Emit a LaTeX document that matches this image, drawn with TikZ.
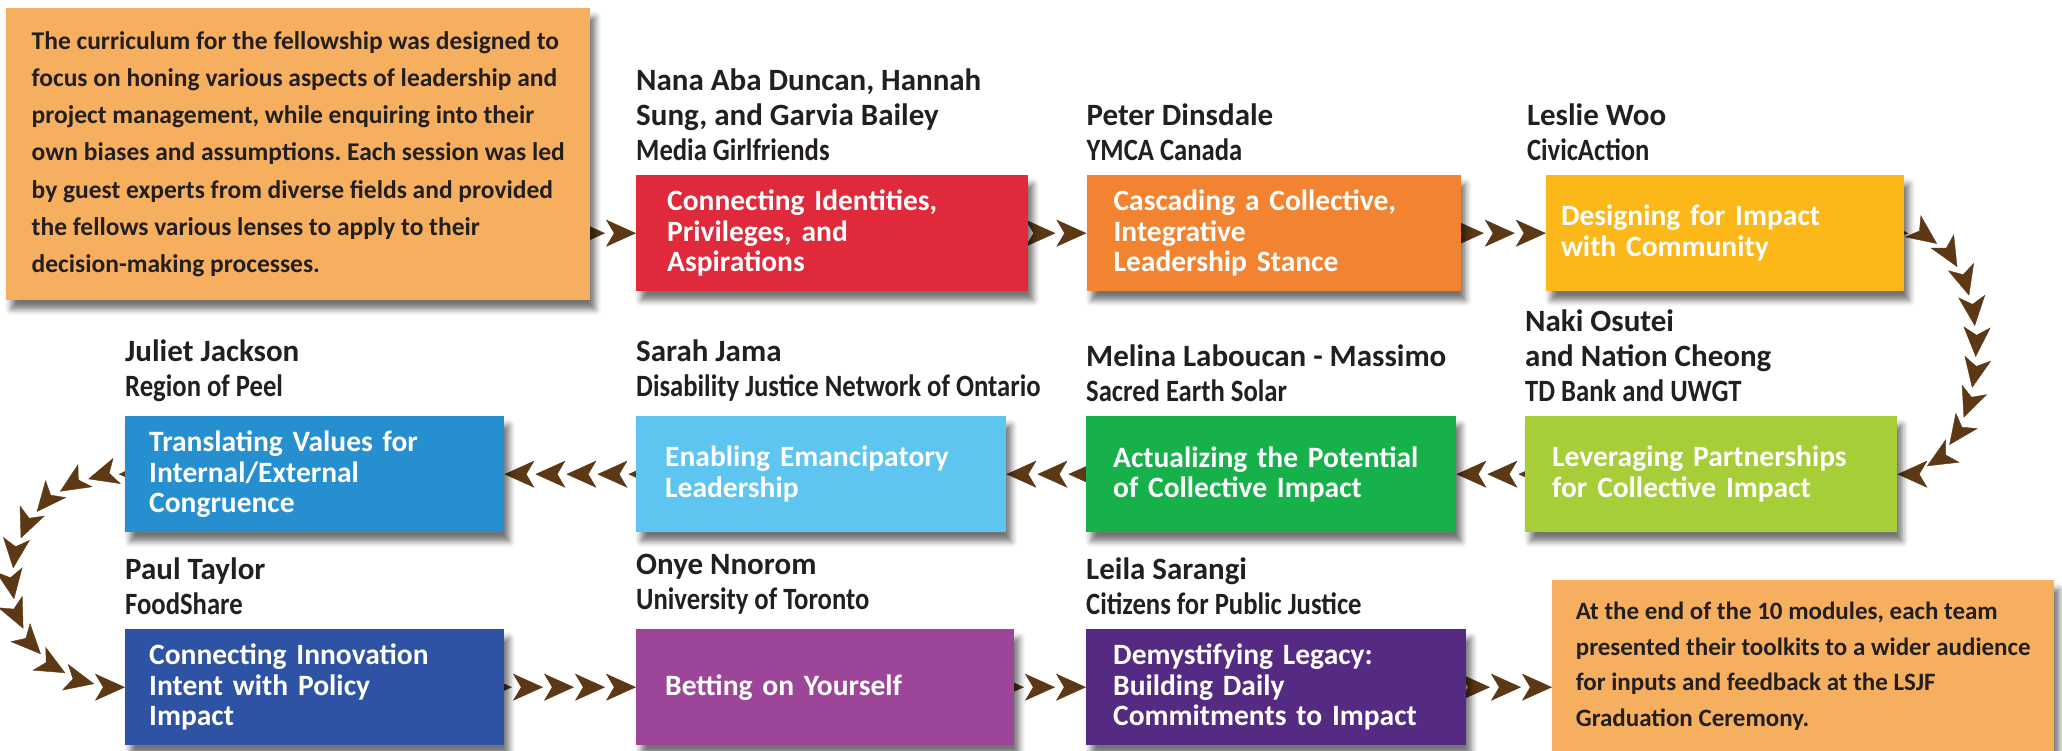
\documentclass[tikz,border=0pt]{standalone}
\usepackage{fontspec}
\setmainfont{Carlito}
\newfontfamily\orgfont[FakeStretch=0.86]{Carlito}
\usetikzlibrary{arrows.meta,backgrounds,decorations.markings,positioning,shadows.blur}
\frenchspacing

\definecolor{txtc}{HTML}{231F20}
\definecolor{notec}{HTML}{F5AF5F}
\definecolor{chevc}{HTML}{5C3814}
\definecolor{redc}{HTML}{E0293B}
\definecolor{orangec}{HTML}{F28431}
\definecolor{yellowc}{HTML}{FBB818}
\definecolor{lgreenc}{HTML}{A6CE39}
\definecolor{greenc}{HTML}{16B14B}
\definecolor{lbluec}{HTML}{5EC4F0}
\definecolor{bluec}{HTML}{268FD0}
\definecolor{dbluec}{HTML}{2E53A4}
\definecolor{purplec}{HTML}{9D4598}
\definecolor{dpurplec}{HTML}{552A82}

\tikzset{
  boxshadow/.style={blur shadow={shadow xshift=5pt,shadow yshift=-9pt,shadow blur radius=6pt,shadow opacity=55}},
  sbox/.style={fill=#1, boxshadow, minimum height=116pt, inner xsep=27pt, inner ysep=0pt,
    text width=320pt, align=left, text=white, anchor=north west,
    font=\bfseries\fontsize{29.5}{30.5}\selectfont},
  who/.style={inner sep=0pt, align=left, text=txtc,
    font=\bfseries\fontsize{31}{35}\selectfont},
  note/.style={fill=notec, boxshadow, inner sep=0pt, align=left, text=txtc,
    anchor=north west, font=\bfseries\fontsize{25.5}{37.2}\selectfont},
  chain/.style={decorate, decoration={markings,
    mark=between positions 0 and 1 step 31pt with
      {\arrowreversed[chevc]{Stealth[length=30pt,width=27pt,inset=8pt]}}}}
}
\newcommand{\org}[1]{{\orgfont #1}}

\begin{document}
\begin{tikzpicture}[x=1pt, y=-1pt]
  \useasboundingbox (0,0) rectangle (2062,751);

  % notes
  \node (intro) [note, minimum width=584pt, minimum height=292pt] at (6,8)
    {The curriculum for the fellowship was designed to\\
     focus on honing various aspects of leadership and\\
     project management, while enquiring into their\\
     own biases and assumptions. Each session was led\\
     by guest experts from diverse fields and provided\\
     the fellows various lenses to apply to their\\
     decision-making processes.};
  \node (endbox) [note, minimum width=502pt, minimum height=172pt,
    font=\bfseries\fontsize{25}{35.5}\selectfont] at (1552,580)
    {At the end of the 10 modules, each team\\
     presented their toolkits to a wider audience\\
     for inputs and feedback at the LSJF\\
     Graduation Ceremony.};

  % modules
  \node (red) [sbox=redc, inner xsep=31pt, text width=330pt] at (636,175)
    {Connecting Identities,\\Privileges, and\\Aspirations};
  \node (orange) [sbox=orangec, right=58pt of red.east, anchor=west]
    {Cascading a Collective,\\Integrative\\Leadership Stance};
  \node (yellow) [sbox=yellowc, inner xsep=15pt, text width=328pt, right=85pt of orange.east, anchor=west]
    {Designing for Impact\\with Community};
  \node (lgreen) [sbox=lgreenc, text width=318pt] at (1525,416)
    {Leveraging Partnerships\\for Collective Impact};
  \node (green) [sbox=greenc, text width=316pt] at (1086,416)
    {Actualizing the Potential\\of Collective Impact};
  \node (lblue) [sbox=lbluec, text width=312pt, inner xsep=29pt] at (636,416)
    {Enabling Emancipatory\\Leadership};
  \node (blue) [sbox=bluec, text width=331pt, inner xsep=24pt] at (125,416)
    {Translating Values for\\Internal/External\\Congruence};
  \node (dblue) [sbox=dbluec, text width=331pt, inner xsep=24pt] at (125,629)
    {Connecting Innovation\\Intent with Policy\\Impact};
  \node (purple) [sbox=purplec, text width=320pt, inner xsep=29pt] at (636,629)
    {Betting on Yourself};
  \node (dpurple) [sbox=dpurplec, text width=326pt] at (1086,629)
    {Demystifying Legacy:\\Building Daily\\Commitments to Impact};

  % guests
  \node (redwho) [who, above=14pt of red.north west, anchor=south west] {Nana Aba Duncan, Hannah\\Sung, and Garvia Bailey\\\org{Media Girlfriends}};
  \node (orangewho) [who, above=14pt of orange.north west, anchor=south west] {Peter Dinsdale\\\org{YMCA Canada}};
  \node (yellowwho) [who, above=14pt of yellow.north west, anchor=south west, xshift=-19pt] {Leslie Woo\\\org{CivicAction}};
  \node (lgreenwho) [who, above=14pt of lgreen.north west, anchor=south west] {Naki Osutei\\and Nation Cheong\\\org{TD Bank and UWGT}};
  \node (greenwho) [who, above=14pt of green.north west, anchor=south west] {Melina Laboucan - Massimo\\\org{Sacred Earth Solar}};
  \node (lbluewho) [who, above=14pt of lblue.north west, anchor=south west] {Sarah Jama\\\org{Disability Justice Network of Ontario}};
  \node (bluewho) [who, above=14pt of blue.north west, anchor=south west] {Juliet Jackson\\\org{Region of Peel}};
  \node (dbluewho) [who, above=14pt of dblue.north west, anchor=south west] {Paul Taylor\\\org{FoodShare}};
  \node (purplewho) [who, above=14pt of purple.north west, anchor=south west] {Onye Nnorom\\\org{University of Toronto}};
  \node (dpurplewho) [who, above=14pt of dpurple.north west, anchor=south west] {Leila Sarangi\\\org{Citizens for Public Justice}};

  % chevron chains
  \begin{scope}[on background layer]
    \path[chain] (red.west) -- (red.west -| intro.east);
    \path[chain] (orange.west) -- (red.east);
    \path[chain] (yellow.west) -- (orange.east);
    \path[chain] (lgreen.east) .. controls +(100,0) and +(100,0) .. (yellow.east);
    \path[chain] (green.east) -- (lgreen.west);
    \path[chain] (lblue.east) -- (green.west);
    \path[chain] (blue.east) -- (lblue.west);
    \path[chain] (dblue.west) .. controls +(-150,0) and +(-150,0) .. (blue.west);
    \path[chain] (purple.west) -- (dblue.east);
    \path[chain] (dpurple.west) -- (purple.east);
    \path[chain] (dpurple.east -| endbox.west) -- (dpurple.east);
  \end{scope}
\end{tikzpicture}
\end{document}
